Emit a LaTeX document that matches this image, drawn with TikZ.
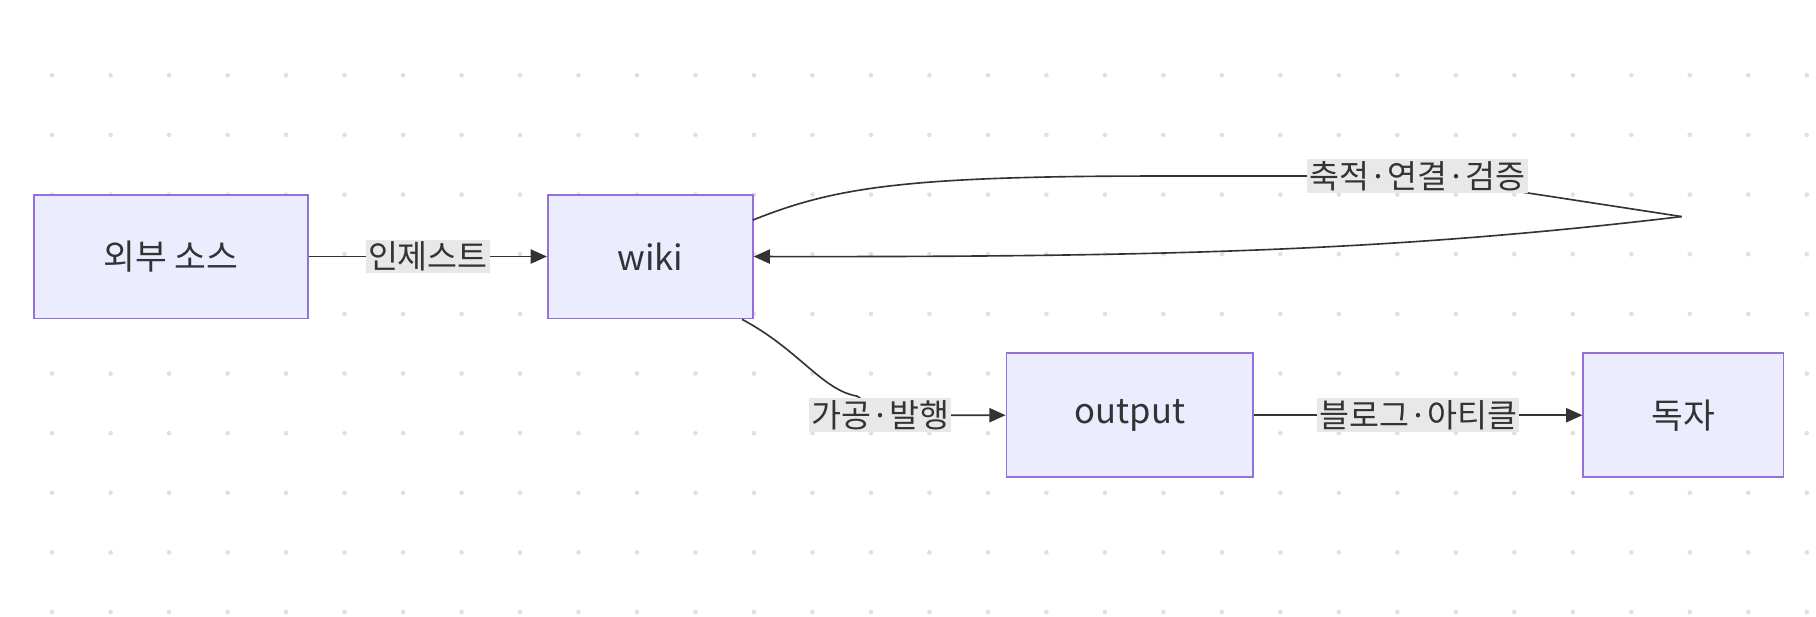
\documentclass[tikz,border=0pt]{standalone}
\usepackage{fontspec}
\setmainfont{Noto Sans CJK KR}
\usetikzlibrary{arrows.meta}
\definecolor{boxfill}{HTML}{ECECFF}
\definecolor{boxline}{HTML}{9370DB}
\definecolor{lblfill}{HTML}{E8E8E8}
\definecolor{ink}{HTML}{333333}
\tikzset{
  box/.style={draw=boxline, fill=boxfill, line width=0.9pt, minimum height=2.14cm, text=ink, font=\fontsize{17}{20}\selectfont},
  lbl/.style={fill=lblfill, text=ink, inner sep=1pt, font=\fontsize{16}{19}\selectfont},
  link/.style={draw=ink, line width=0.8pt, -{Triangle[length=8pt,width=7pt]}}
}
\begin{document}
\begin{tikzpicture}[x=0.02cm, y=0.02cm]
    \useasboundingbox (0, 0) rectangle (1568, 532);
    \fill[white] (0, 0) rectangle (1568, 532);

    % dot grid
    \foreach \i in {0,...,30}
        \foreach \j in {0,...,9}
            \fill[black!12] (45+50.5*\i, 467-51.5*\j) circle (2);

    \node [box, minimum width=4.74cm] (src) at (147.5, 310.5) {외부 소스};
    \node [box, minimum width=3.54cm] (wiki) at (561.5, 310.5) {wiki};
    \node [box, minimum width=4.26cm] (out) at (975.5, 173.5) {output};
    \node [box, minimum width=3.46cm] (rdr) at (1453.5, 173.5) {독자};

    \coordinate (tip) at (1452, 345);

    \draw [link] (src) -- node [lbl] {인제스트} (wiki);
    \draw [link] (out) -- node [lbl] {블로그·아티클} (rdr);
    \draw [link] (wiki.south east) ++(-10, 0)
        .. controls (690, 230) and (710, 195) .. (740, 190)
        .. controls (755, 180) .. (760, 173.5)
        node [lbl] {가공·발행} -- (out.west);
    \draw [draw=ink, line width=0.8pt] (650, 342)
        .. controls (720, 370) and (780, 380) .. (1000, 380)
        -- (1224, 380) node [lbl] {축적·연결·검증} -- (tip);
    \draw [link] (tip) .. controls (1200, 315) and (1000, 310) .. (wiki.east);
\end{tikzpicture}
\end{document}
